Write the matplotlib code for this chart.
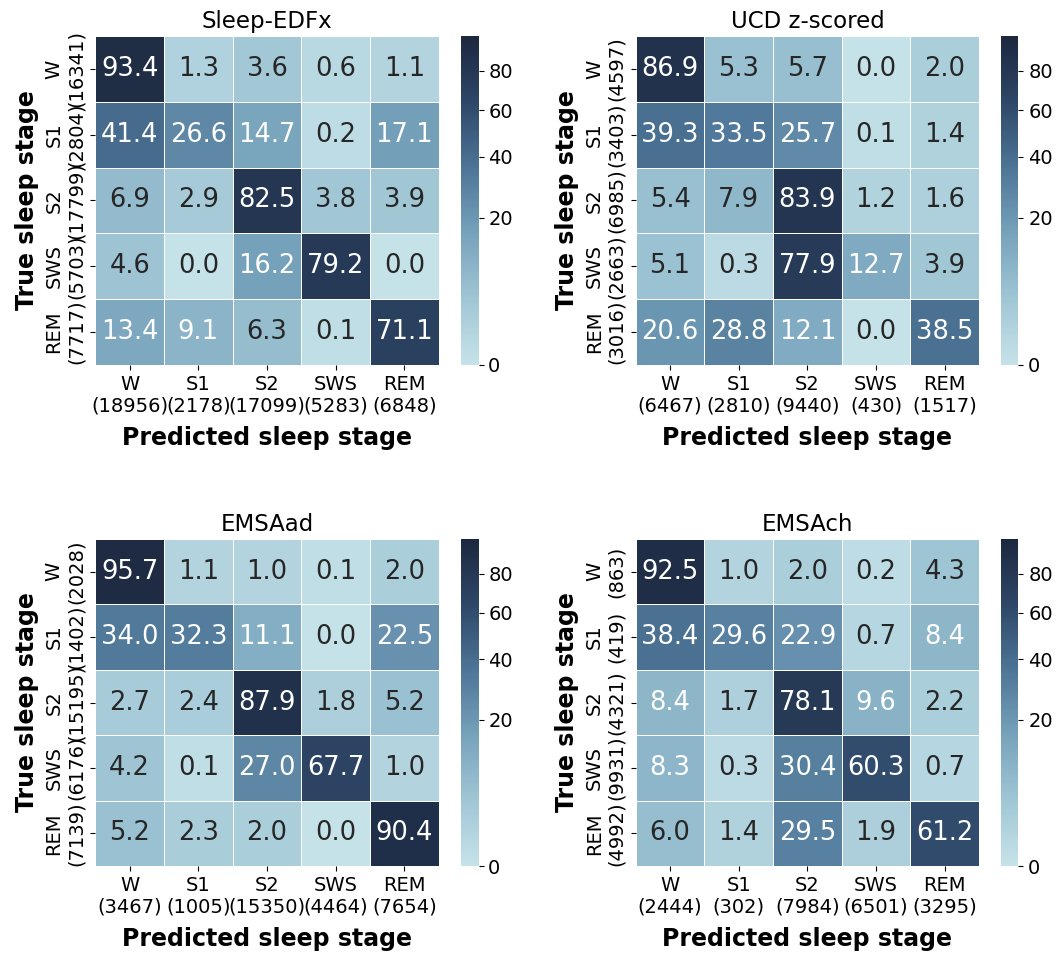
import numpy as np
import matplotlib
matplotlib.use("Agg")
import matplotlib.pyplot as plt
from matplotlib.colors import LinearSegmentedColormap, PowerNorm

stages = ["W", "S1", "S2", "SWS", "REM"]

# row-normalised confusion matrices (%), rows = true stage, cols = predicted
edfx_cm = [
    [93.4, 1.3, 3.6, 0.6, 1.1],
    [41.4, 26.6, 14.7, 0.2, 17.1],
    [6.9, 2.9, 82.5, 3.8, 3.9],
    [4.6, 0.0, 16.2, 79.2, 0.0],
    [13.4, 9.1, 6.3, 0.1, 71.1],
]
edfx_true_n = [16341, 2804, 17799, 5703, 7717]
edfx_pred_n = [18956, 2178, 17099, 5283, 6848]

ucd_cm = [
    [86.9, 5.3, 5.7, 0.0, 2.0],
    [39.3, 33.5, 25.7, 0.1, 1.4],
    [5.4, 7.9, 83.9, 1.2, 1.6],
    [5.1, 0.3, 77.9, 12.7, 3.9],
    [20.6, 28.8, 12.1, 0.0, 38.5],
]
ucd_true_n = [4597, 3403, 6985, 2663, 3016]
ucd_pred_n = [6467, 2810, 9440, 430, 1517]

emsaad_cm = [
    [95.7, 1.1, 1.0, 0.1, 2.0],
    [34.0, 32.3, 11.1, 0.0, 22.5],
    [2.7, 2.4, 87.9, 1.8, 5.2],
    [4.2, 0.1, 27.0, 67.7, 1.0],
    [5.2, 2.3, 2.0, 0.0, 90.4],
]
emsaad_true_n = [2028, 1402, 15195, 6176, 7139]
emsaad_pred_n = [3467, 1005, 15350, 4464, 7654]

emsach_cm = [
    [92.5, 1.0, 2.0, 0.2, 4.3],
    [38.4, 29.6, 22.9, 0.7, 8.4],
    [8.4, 1.7, 78.1, 9.6, 2.2],
    [8.3, 0.3, 30.4, 60.3, 0.7],
    [6.0, 1.4, 29.5, 1.9, 61.2],
]
emsach_true_n = [863, 419, 4321, 9931, 4992]
emsach_pred_n = [2444, 302, 7984, 6501, 3295]

cbar_ticks = [0, 20, 40, 60, 80]

cmap = LinearSegmentedColormap.from_list(
    "sleep_blue",
    [(0.0, "#c6e2e9"), (0.2, "#a0c6d5"), (0.4, "#76a2bb"),
     (0.6, "#4d7597"), (0.8, "#2e4768"), (1.0, "#1c283f")],
)
norm = PowerNorm(gamma=0.5, vmin=0, vmax=100)

panels = [
    ("Sleep-EDFx", edfx_cm, edfx_true_n, edfx_pred_n),
    ("UCD z-scored", ucd_cm, ucd_true_n, ucd_pred_n),
    ("EMSAad", emsaad_cm, emsaad_true_n, emsaad_pred_n),
    ("EMSAch", emsach_cm, emsach_true_n, emsach_pred_n),
]

# axes boxes in pixels: heatmap/colorbar left edges per column, top/bottom per row
W, H = 1060, 956
col_x = [(95.3, 461), (635.7, 1001)]
row_y = [(36, 365), (539, 866)]


def draw_panel(fig, k, title, cm, true_n, pred_n):
    r, c = divmod(k, 2)
    hx, cx = col_x[c]
    top, bot = row_y[r]
    ax = fig.add_axes([hx / W, 1 - bot / H, 343.4 / W, (bot - top) / H])
    cax = fig.add_axes([cx / W, 1 - bot / H, 17.5 / W, (bot - top) / H])

    data = np.array(cm)
    mesh = ax.pcolormesh(data, cmap=cmap, norm=norm,
                         edgecolors="white", linewidth=0.6)
    ax.set_xlim(0, 5)
    ax.set_ylim(5, 0)
    for i in range(5):
        for j in range(5):
            v = data[i, j]
            ax.text(j + 0.5, i + 0.5, f"{v:.1f}", ha="center", va="center",
                    fontsize=18.5, color="white" if v >= 8 else "#262626")

    ticks = np.arange(5) + 0.5
    ax.set_xticks(ticks)
    ax.set_xticklabels([f"{s}\n({n})" for s, n in zip(stages, pred_n)],
                       fontsize=14)
    ax.set_yticks(ticks)
    ax.set_yticklabels([f"{s}\n({n})" for s, n in zip(stages, true_n)],
                       fontsize=14, rotation=90, va="center", ma="center")
    for sp in ax.spines.values():
        sp.set_visible(False)
    ax.set_title(title, fontsize=16.5)
    ax.set_xlabel("Predicted sleep stage", fontsize=17, fontweight="bold",
                  labelpad=7.5)
    ax.set_ylabel("True sleep stage", fontsize=17, fontweight="bold")

    cb = fig.colorbar(mesh, cax=cax)
    cb.set_ticks(cbar_ticks)
    cb.outline.set_visible(False)
    cax.tick_params(labelsize=14)


fig = plt.figure(figsize=(W / 100, H / 100), dpi=100)
for k, (title, cm, true_n, pred_n) in enumerate(panels):
    draw_panel(fig, k, title, cm, true_n, pred_n)

fig.savefig("out.png", dpi=100)
